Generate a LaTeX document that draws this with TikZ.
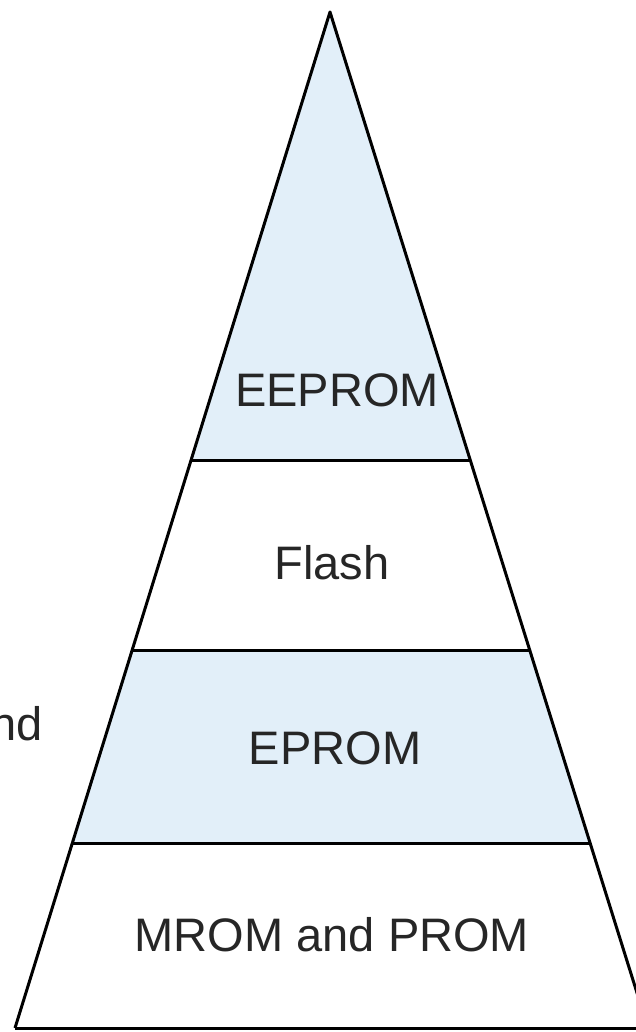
\documentclass[tikz,border=0pt]{standalone}
\usepackage{fontspec}
\setmainfont{Liberation Sans}
\begin{document}
\begin{tikzpicture}[x=1pt,y=-1pt,
  edge/.style={line width=3pt,line join=round},
  band/.style={fill=bandblue,draw=none},
  label/.style={font=\fontsize{47}{50}\selectfont,text=black!85}]
\definecolor{bandblue}{HTML}{E2EFF9}
\useasboundingbox (0,0) rectangle (636,1032);
% corners of the pyramid and of its bands
\coordinate (apex) at (330,12);
\coordinate (l1) at (191.1,460); \coordinate (r1) at (470.2,460);
\coordinate (l2) at (132.2,650); \coordinate (r2) at (529.7,650);
\coordinate (l3) at (72.4,843);  \coordinate (r3) at (590.1,843);
\coordinate (l4) at (15,1028);   \coordinate (r4) at (648,1028);
% shaded bands
\fill[band] (apex) -- (r1) -- (l1) -- cycle;
\fill[band] (l2) -- (r2) -- (r3) -- (l3) -- cycle;
% outline and dividers
\draw[edge] (l4) -- (apex) -- (r4);
\draw[edge] (l4) -- (r4);
\draw[edge] (l1) -- (r1);
\draw[edge] (l2) -- (r2);
\draw[edge] (l3) -- (r3);
% band labels
\node[label] (eeprom) at (337,390) {EEPROM};
\node[label] (flash) at (332,563) {Flash};
\node[label] (eprom) at (335,748) {EPROM};
\node[label] (mrom) at (332,935) {MROM and PROM};
\node[label,anchor=base east] (nd) at (46,740) {nd};
\end{tikzpicture}
\end{document}
